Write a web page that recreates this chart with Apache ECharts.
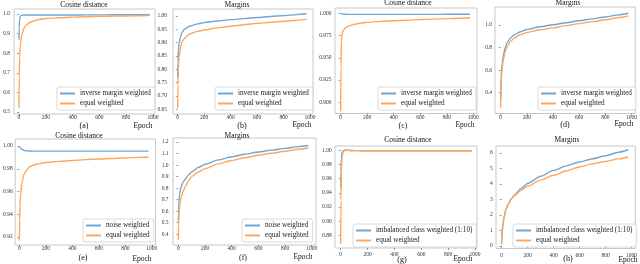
<!DOCTYPE html>
<html><head><meta charset="utf-8">
<script src="https://cdn.jsdelivr.net/npm/echarts@6/dist/echarts.min.js"></script>
<style>html,body{margin:0;padding:0;background:#fff}#c{width:640px;height:264px}</style>
</head><body><div id="c"></div>
<script>
// ---------- DATA ----------
const epochs = [0, 2, 5, 10, 20, 35, 50, 75, 100, 150, 200, 300, 400, 500, 600, 700, 800, 900, 975];

const a_inverse = [0.87, 0.93, 0.975, 0.99, 0.994, 0.995, 0.995, 0.995, 0.995, 0.995, 0.995, 0.995, 0.995, 0.9955, 0.9955, 0.996, 0.996, 0.996, 0.996];
const a_equal   = [0.52, 0.68, 0.78, 0.84, 0.89, 0.925, 0.94, 0.955, 0.963, 0.972, 0.977, 0.981, 0.984, 0.986, 0.988, 0.989, 0.990, 0.991, 0.993];

const b_inverse = [0.77, 0.83, 0.87, 0.895, 0.92, 0.94, 0.95, 0.958, 0.963, 0.97, 0.975, 0.981, 0.986, 0.99, 0.994, 0.998, 1.001, 1.005, 1.008];
const b_equal   = [0.655, 0.74, 0.80, 0.845, 0.88, 0.905, 0.915, 0.927, 0.934, 0.942, 0.947, 0.955, 0.961, 0.967, 0.972, 0.976, 0.98, 0.984, 0.987];

const c_inverse = [1.000, 0.9999, 0.9997, 0.9994, 0.9991, 0.9989, 0.9988, 0.9988, 0.9988, 0.9988, 0.9988, 0.9988, 0.9988, 0.9988, 0.9988, 0.9988, 0.9989, 0.9989, 0.9989];
const c_equal   = [0.89, 0.94, 0.968, 0.977, 0.981, 0.9835, 0.985, 0.9865, 0.9875, 0.989, 0.9898, 0.991, 0.9917, 0.9923, 0.993, 0.9935, 0.994, 0.9945, 0.995];

const d_inverse = [0.35, 0.45, 0.56, 0.64, 0.73, 0.80, 0.845, 0.885, 0.91, 0.94, 0.96, 0.985, 1.003, 1.02, 1.038, 1.055, 1.072, 1.09, 1.105];
const d_equal   = [0.27, 0.40, 0.52, 0.60, 0.69, 0.765, 0.81, 0.855, 0.88, 0.915, 0.935, 0.958, 0.975, 0.995, 1.013, 1.03, 1.047, 1.065, 1.08];

const e_noise = [1.0, 0.9995, 0.999, 0.998, 0.997, 0.9962, 0.9958, 0.9956, 0.9955, 0.9955, 0.9955, 0.9955, 0.9955, 0.9955, 0.9955, 0.9955, 0.9955, 0.9955, 0.9955];
const e_equal = [0.917, 0.935, 0.948, 0.958, 0.968, 0.975, 0.978, 0.9815, 0.983, 0.9845, 0.9855, 0.9865, 0.9872, 0.988, 0.9886, 0.989, 0.9895, 0.99, 0.9903];

const f_noise = [0.51, 0.60, 0.68, 0.75, 0.81, 0.85, 0.875, 0.915, 0.94, 0.98, 1.007, 1.045, 1.072, 1.094, 1.113, 1.13, 1.145, 1.16, 1.17];
const f_equal = [0.35, 0.48, 0.58, 0.65, 0.72, 0.77, 0.81, 0.86, 0.90, 0.94, 0.969, 1.01, 1.04, 1.064, 1.085, 1.103, 1.12, 1.137, 1.148];

const g_imbalanced = [0.947, 0.97, 0.988, 0.997, 0.9995, 1.0003, 1.0, 0.9996, 0.9995, 0.9994, 0.9994, 0.9993, 0.9993, 0.9993, 0.9993, 0.9993, 0.9993, 0.9993, 0.9993];
const g_equal      = [0.868, 0.93, 0.97, 0.99, 0.9985, 1.0, 0.9998, 0.9996, 0.9995, 0.9994, 0.9994, 0.9993, 0.9993, 0.9993, 0.9993, 0.9993, 0.9993, 0.9993, 0.9993];

const h_imbalanced = [0.15, 0.55, 0.95, 1.35, 1.9, 2.4, 2.7, 3.05, 3.3, 3.72, 4.03, 4.5, 4.88, 5.17, 5.42, 5.63, 5.82, 6.05, 6.21];
const h_equal      = [0.12, 0.55, 0.95, 1.35, 1.9, 2.4, 2.7, 3.02, 3.25, 3.6, 3.85, 4.25, 4.56, 4.85, 5.1, 5.3, 5.45, 5.62, 5.74];

const xTicks  = [0, 200, 400, 600, 800, 1000];
const yTicksA = [0.5, 0.6, 0.7, 0.8, 0.9, 1.0];
const yTicksB = [0.65, 0.70, 0.75, 0.80, 0.85, 0.90, 0.95, 1.00];
const yTicksC = [0.900, 0.925, 0.950, 0.975, 1.000];
const yTicksD = [0.4, 0.6, 0.8, 1.0];
const yTicksE = [0.92, 0.94, 0.96, 0.98, 1.00];
const yTicksF = [0.4, 0.5, 0.6, 0.7, 0.8, 0.9, 1.0, 1.1, 1.2];
const yTicksG = [0.88, 0.90, 0.92, 0.94, 0.96, 0.98, 1.00];
const yTicksH = [0, 1, 2, 3, 4, 5, 6];

const nameInverse = 'inverse margin weighted';
const nameNoise = 'noise weighted';
const nameImb = 'imbalanced class weighted (1:10)';
const nameEqual = 'equal weighted';

// ---------- LAYOUT ----------
const BLUE = '#6fa6d4', ORANGE = '#ffa65a';
const FONT = 'Liberation Serif';
const panels = [
  {f:[14,9,141,105],   x:[-37,1015],  y:[0.4898,1.0255], yt:yTicksA, dec:1, blue:a_inverse, orange:a_equal, bn:nameInverse, title:'Cosine distance', tl:[84,5], sub:'(a)', sl:[84,126], ep:[143,126], lg:[57,87], ylm:4, xlm:1},
  {f:[173,9,140,105],  x:[-35.5,1022.7], y:[0.632,1.026], yt:yTicksB, dec:2, blue:b_inverse, orange:b_equal, bn:nameInverse, title:'Margins', tl:[237,5], sub:'(b)', sl:[242,126], ep:[302,125], lg:[215,87], ylm:6, xlm:1},
  {f:[335,8,142,105.5],x:[-43,1028],  y:[0.8874,1.006], yt:yTicksC, dec:3, blue:c_inverse, orange:c_equal, bn:nameInverse, title:'Cosine distance', tl:[408,3], sub:'(c)', sl:[403,126], ep:[465,125], lg:[378,87], ylm:3.5, xlm:1},
  {f:[495,7,142,106.5],x:[-43,1028],  y:[0.216,1.16], yt:yTicksD, dec:1, blue:d_inverse, orange:d_equal, bn:nameInverse, title:'Margins', tl:[568,3], sub:'(d)', sl:[565,125], ep:[624,124], lg:[538,87], ylm:3, xlm:1},
  {f:[14,139,141.5,106],x:[-32,1028], y:[0.913,1.00615], yt:yTicksE, dec:2, blue:e_noise, orange:e_equal, bn:nameNoise, title:'Cosine distance', tl:[79,136.5], sub:'(e)', sl:[83,258], ep:[142,259], lg:[83,219], ylm:2.5, xlm:1},
  {f:[173,138,143,107],x:[-40,1032],  y:[0.307,1.2347], yt:yTicksF, dec:1, blue:f_noise, orange:f_equal, bn:nameNoise, title:'Margins', tl:[237,136.5], sub:'(f)', sl:[243,258], ep:[303,257], lg:[242,219], ylm:4.5, xlm:1},
  {f:[335,146,142,102],x:[-42.5,1015],y:[0.862,1.006], yt:yTicksG, dec:2, blue:g_imbalanced, orange:g_equal, bn:nameImb, title:'Cosine distance', tl:[408,140], sub:'(g)', sl:[402,260], ep:[463,259], lg:[353,224], ylm:3.3, xlm:4},
  {f:[496,146,141,102.5],x:[-43,1029],y:[-0.16,6.45], yt:yTicksH, dec:0, blue:h_imbalanced, orange:h_equal, bn:nameImb, title:'Margins', tl:[567,140], sub:'(h)', sl:[568,259], ep:[628,260], lg:[513,224], ylm:3.3, xlm:4}
];

const grid = [], xAxis = [], yAxis = [], series = [], legend = [], graphic = [];
const pair = arr => epochs.map((e, i) => [e, arr[i]]);
panels.forEach((p, i) => {
  grid.push({left:p.f[0], top:p.f[1], width:p.f[2], height:p.f[3], show:true, borderColor:'#c8c8c8', borderWidth:1, containLabel:false});
  xAxis.push({type:'value', gridIndex:i, min:p.x[0], max:p.x[1],
    axisLine:{show:false}, splitLine:{show:false},
    axisTick:{show:true, customValues:xTicks, length:2, lineStyle:{color:'#555', width:0.6}},
    axisLabel:{customValues:xTicks, fontFamily:FONT, fontSize:5.5, color:'#333', margin:p.xlm,
      formatter: v => String(Math.round(v))}});
  yAxis.push({type:'value', gridIndex:i, min:p.y[0], max:p.y[1],
    axisLine:{show:false}, splitLine:{show:false},
    axisTick:{show:true, customValues:p.yt, length:2, lineStyle:{color:'#555', width:0.6}},
    axisLabel:{customValues:p.yt, fontFamily:FONT, fontSize:5.5, color:'#333', margin:p.ylm,
      formatter: v => Number(v).toFixed(p.dec)}});
  [[p.bn, p.blue, BLUE], [nameEqual, p.orange, ORANGE]].forEach(([n, d, c]) => {
    series.push({type:'line', name:n, xAxisIndex:i, yAxisIndex:i, data:pair(d), showSymbol:false,
      smooth:0.25, smoothMonotone:'x', clip:false, color:c, lineStyle:{color:c, width:1.4}, animation:false, silent:true});
  });
  legend.push({data:[p.bn, nameEqual], orient:'vertical', left:p.lg[0], top:p.lg[1],
    padding:[2,4,2,3], itemGap:1, itemWidth:15, itemHeight:2, icon:'rect',
    borderColor:'#cfcfcf', borderWidth:0.8, borderRadius:2, backgroundColor:'rgba(255,255,255,0.85)',
    textStyle:{fontFamily:FONT, fontSize:7.2, color:'#222', lineHeight:9}, selectedMode:false});
  const txt = (t, pos, size) => graphic.push({type:'text', x:pos[0], y:pos[1], silent:true,
    style:{text:t, font:size + 'px "' + FONT + '"', fill:'#111', align:'center', verticalAlign:'middle'}});
  txt(p.title, p.tl, 7.5);
  txt(p.sub, p.sl, 8);
  txt('Epoch', p.ep, 7.5);
});

const chart = echarts.init(document.getElementById('c'), null, {renderer:'canvas'});
chart.setOption({animation:false, backgroundColor:'#fff', grid, xAxis, yAxis, series, legend, graphic});
</script></body></html>
